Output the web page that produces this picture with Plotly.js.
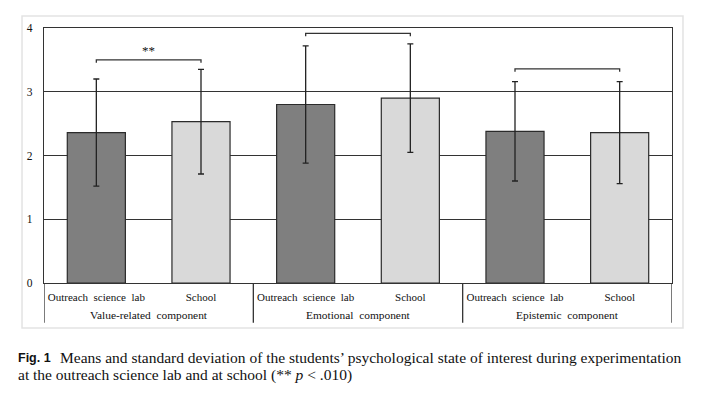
<!DOCTYPE html>
<html><head><meta charset="utf-8">
<script src="https://cdn.plot.ly/plotly-3.0.1.min.js"></script>
<style>html,body{margin:0;padding:0;background:#fff;}#chart{width:709px;height:395px;}</style>
</head><body><div id="chart"></div>
<script>
const groups = ["Value-related  component", "Emotional  component", "Epistemic  component"];
const conditions = ["Outreach  science  lab", "School"];
const labMeans = [2.36, 2.80, 2.38];
const labSD = [0.84, 0.92, 0.78];
const schoolMeans = [2.53, 2.90, 2.36];
const schoolSD = [0.82, 0.85, 0.80];
const bracketLevels = [3.50, 3.915, 3.36];
const bracketMarks = ["**", "", ""];
const yTicks = [0, 1, 2, 3, 4];

const serif = "'Liberation Serif', 'Times New Roman', serif";
const xLab = groups.map((g, i) => 2 * i);
const xSch = groups.map((g, i) => 2 * i + 1);
const tickvals = [], ticktext = [];
groups.forEach((g, i) => { tickvals.push(2*i, 2*i+1); ticktext.push(conditions[0], conditions[1]); });

const barW = 0.555;
const traces = [
  {type:'bar', x:xLab, y:labMeans, width:barW,
   marker:{color:'#7f7f7f', line:{color:'#2b2b2b', width:1.2}},
   error_y:{type:'data', array:labSD, visible:true, color:'#222', thickness:1.3, width:3}},
  {type:'bar', x:xSch, y:schoolMeans, width:barW,
   marker:{color:'#d9d9d9', line:{color:'#2b2b2b', width:1.2}},
   error_y:{type:'data', array:schoolSD, visible:true, color:'#222', thickness:1.3, width:3}}
];

const shapes = [];
shapes.push({type:'rect', xref:'paper', yref:'paper', x0:-0.035, x1:1.0175, y0:-0.1765, y1:1.047,
  line:{color:'#e3e3e3', width:1.5}, layer:'below'});
for (let i = 0; i <= groups.length; i++) {
  shapes.push({type:'line', xref:'x', yref:'paper', x0:2*i-0.5, x1:2*i-0.5, y0:0, y1:-0.156,
    line:{color:'#333', width:1.3}});
}
const annotations = [];
bracketLevels.forEach((lv, i) => {
  const a = 2*i, b = 2*i+1;
  shapes.push({type:'path', xref:'x', yref:'y',
    path:`M ${a},${lv-0.045} L ${a},${lv} L ${b},${lv} L ${b},${lv-0.045}`,
    line:{color:'#333', width:1.3}});
  if (bracketMarks[i]) annotations.push({xref:'x', yref:'y', x:(a+b)/2, y:lv, yanchor:'bottom', yshift:0,
    text:bracketMarks[i], showarrow:false, font:{family:serif, size:13, color:'#111'}});
});
groups.forEach((g, i) => {
  annotations.push({xref:'x', yref:'paper', x:2*i+0.5, y:-0.127, yanchor:'middle', text:g,
    showarrow:false, font:{family:serif, size:11.4, color:'#111'}});
});
annotations.push({xref:'paper', yref:'paper', x:-0.045, y:-0.294, xanchor:'left', yanchor:'middle', showarrow:false,
  text:"<b>Fig. 1</b>",
  font:{family:"'Liberation Sans Narrow', 'Liberation Sans', Arial, sans-serif", size:12.5, color:'#111'}});
annotations.push({xref:'paper', yref:'paper', x:0.0215, y:-0.294, xanchor:'left', yanchor:'middle', showarrow:false,
  text:"Means and standard deviation of the students’ psychological state of interest during experimentation",
  font:{family:serif, size:15.5, color:'#111'}});
annotations.push({xref:'paper', yref:'paper', x:-0.045, y:-0.362, xanchor:'left', yanchor:'middle', showarrow:false,
  text:"at the outreach science lab and at school (** <i>p</i> < .010)",
  font:{family:serif, size:15.5, color:'#111'}});

const layout = {
  width:709, height:395,
  margin:{l:44, r:37, t:28, b:112},
  paper_bgcolor:'#fff', plot_bgcolor:'#fff',
  showlegend:false, barmode:'group',
  xaxis:{range:[-0.5, 5.5], tickvals:tickvals, ticktext:ticktext, showgrid:false, zeroline:false,
    showline:true, mirror:true, linecolor:'#333', linewidth:1.3, ticks:'', ticklabelstandoff:3,
    tickfont:{family:serif, size:11, color:'#111'}, fixedrange:true},
  yaxis:{range:[0, 4], tickvals:yTicks, showgrid:true, gridcolor:'#333', gridwidth:1.3, zeroline:false,
    showline:true, mirror:true, linecolor:'#333', linewidth:1.3, ticks:'', ticklabelstandoff:8,
    tickfont:{family:serif, size:11.5, color:'#111'}, fixedrange:true},
  shapes:shapes, annotations:annotations
};
Plotly.newPlot('chart', traces, layout, {staticPlot:true, displayModeBar:false});
</script></body></html>
